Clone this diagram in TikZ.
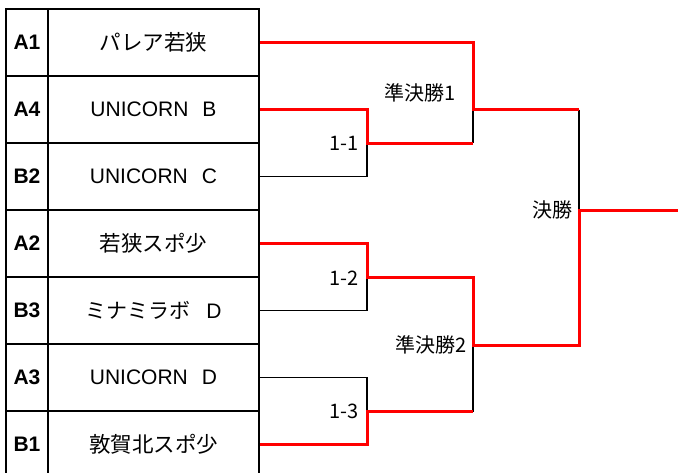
\documentclass[tikz,border=0pt]{standalone}
\usepackage{fontspec}
\setmainfont{Liberation Sans}
\newfontfamily\jp{Noto Sans CJK JP}
\begin{document}
\begin{tikzpicture}[x=1pt,y=-1pt,
  cellA/.style={draw, line width=2pt, minimum width=42pt, minimum height=67pt, inner sep=0pt, font=\bfseries\fontsize{21}{21}\selectfont},
  cellT/.style={draw, line width=2pt, minimum width=211pt, minimum height=67pt, inner sep=0pt, font=\fontsize{21}{21}\selectfont},
  win/.style={draw=red, line width=3pt},
  lose/.style={draw=black, line width=1.7pt},
  lbl/.style={anchor=east, inner sep=0pt, font=\jp\fontsize{20}{20}\selectfont}]
\useasboundingbox (0,0) rectangle (678,472);
\clip (0,0) rectangle (678,472);
% table
\node[cellA] (a1) at (27,42.5)  {A1};
\node[cellA] (a2) at (27,109.5) {A4};
\node[cellA] (a3) at (27,176.5) {B2};
\node[cellA] (a4) at (27,243.5) {A2};
\node[cellA] (a5) at (27,310.5) {B3};
\node[cellA] (a6) at (27,377.5) {A3};
\node[cellA] (a7) at (27,444.5) {B1};
\node[cellT] (t1) at (153.5,42.5)  {\jp\fontsize{21.5}{21.5}\selectfont パレア若狭};
\node[cellT] (t2) at (153.5,109.5) {UNICORN\hspace{14pt}B};
\node[cellT] (t3) at (153.5,176.5) {UNICORN\hspace{14pt}C};
\node[cellT] (t4) at (153.5,243.5) {\jp\fontsize{21.5}{21.5}\selectfont 若狭スポ少};
\node[cellT] (t5) at (153.5,310.5) {{\jp ミナミラボ}\hspace{16pt}D};
\node[cellT] (t6) at (153.5,377.5) {UNICORN\hspace{14pt}D};
\node[cellT] (t7) at (153.5,444.5) {\jp\fontsize{21.5}{21.5}\selectfont 敦賀北スポ少};
% junctions
\coordinate (j11) at (367,143);
\coordinate (j12) at (367,277);
\coordinate (j13) at (367,411.5);
\coordinate (s1) at (473,109.5);
\coordinate (s2) at (473,345);
\coordinate (fj) at (579,210);
\coordinate (out) at (678,210);
% losers
\draw[lose] (t3.east) -| (j11);
\draw[lose] (s1 |- j11) -- (s1);
\draw[lose] (fj |- s1) -- (fj);
\draw[lose] (t5.east) -| (j12);
\draw[lose] (t6.east) -| (j13);
\draw[lose] (s2) -- (s2 |- j13);
% winners
\draw[win] (t2.east) -| (j11) -- (s1 |- j11);
\draw[win] (t1.east) -| (s1) -- (fj |- s1);
\draw[win] (t4.east) -| (j12) -- (s2 |- j12) -- (s2) -- (fj |- s2) -- (fj) -- (out);
\draw[win] (t7.east) -| (j13) -- (s2 |- j13);
% labels
\node[lbl] (m11) at (359,143) {1-1};
\node[lbl] (m12) at (359,278) {1-2};
\node[lbl] (m13) at (359,411.5) {1-3};
\node[lbl] (sf1) at (456,93) {準決勝1};
\node[lbl] (sf2) at (467,345) {準決勝2};
\node[lbl] (fin) at (573,210) {決勝};
\end{tikzpicture}
\end{document}
